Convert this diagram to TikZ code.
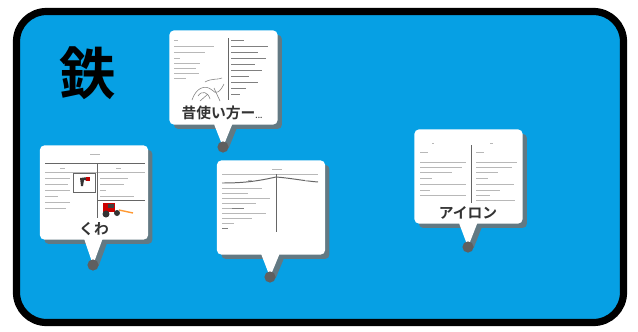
\documentclass[tikz,border=0pt]{standalone}
\usepackage{fontspec}
\newfontfamily\jp{Noto Sans CJK JP}[BoldFont={Noto Sans CJK JP Bold}]
\usetikzlibrary{shapes.callouts,shadows}
\definecolor{sky}{RGB}{6,160,228}
\definecolor{pingray}{RGB}{95,95,95}

\begin{document}
\begin{tikzpicture}[x=0.025cm, y=-0.025cm]
    \tikzstyle{card} = [rectangle callout, fill=white, rounded corners=3pt, inner sep=0pt, minimum width=2.7cm, minimum height=2.35cm, callout pointer width=0.45cm, drop shadow={shadow xshift=0.11cm, shadow yshift=-0.11cm, fill=black!55, opacity=0.85}]
    \tikzstyle{pin} = [circle, fill=pingray, inner sep=0pt, minimum size=0.28cm]
    \tikzstyle{tag} = [font=\jp\bfseries\fontsize{10.5}{10.5}\selectfont, text=black!80, inner sep=1pt]
    \tikzstyle{txt} = [draw=black!28, line width=0.4pt]
    \tikzstyle{ink} = [draw=black!50, line width=0.4pt]
    \tikzstyle{rule} = [draw=black!60, line width=0.7pt]

    \useasboundingbox (0,0) rectangle (638,331);
    % board
    \draw[line width=0.18cm, rounded corners=0.75cm, fill=sky] (16.5,11.5) rectangle (623.5,322.5);
    \node[font=\jp\bfseries\fontsize{40}{40}\selectfont] (title) at (88,73) {鉄};

    % tips of the callouts
    \coordinate (t1) at (223,147);
    \coordinate (t2) at (93,265);
    \coordinate (t3) at (270,277);
    \coordinate (t4) at (468,247);

    \node[card, callout absolute pointer={(t1)}] (c1) at (223.5,77.5) {};
    \node[card, callout absolute pointer={(t2)}] (c2) at (94,192.5) {};
    \node[card, callout absolute pointer={(t3)}] (c3) at (271,207.5) {};
    \node[card, callout absolute pointer={(t4)}] (c4) at (468.5,176.5) {};

    % page 1: notes with a sketch
    \draw[txt] (174,40) -- (178,40) (174,46) -- (214,46) (174,52) -- (205,52) (174,58) -- (180,58)
      (174,63) -- (200,63) (174,68) -- (196,68) (174,73) -- (199,73) (174,78) -- (186,78);
    \draw[rule] (228,38) -- (228,100);
    \draw[ink] (231,40) -- (244,40) (231,46) -- (268,46) (231,52) -- (258,52) (231,58) -- (266,58)
      (231,64) -- (255,64) (231,70) -- (262,70) (231,76) -- (249,76) (231,82) -- (258,82)
      (231,88) -- (246,88) (231,94) -- (240,94);
    \draw[ink] (192,100) .. controls (196,88) and (205,84) .. (212,90) .. controls (216,95) and (220,92) .. (224,84);
    \draw[ink] (198,96) .. controls (202,90) and (208,92) .. (210,99);
    \draw[ink] (205,82) .. controls (212,78) and (218,80) .. (222,78) (214,88) -- (220,101) (200,101) -- (208,94);

    % page 2: table with a hoe and a tractor
    \draw[txt] (90,154) -- (100,154) (60,168) -- (65,168) (116,168) -- (121,168);
    \draw[rule] (45,163) -- (145,163);
    \draw[txt] (45,172) -- (145,172);
    \draw[rule] (97,163) -- (97,218) (97,200) -- (145,200);
    \draw[rule] (73,173) rectangle (95,192);
    \fill[black!80] (80,178) -- (88,177) -- (89,181) -- (84,180) -- (83,186) -- (81,186) -- cycle;
    \fill[red!75!black] (86,177) rectangle (90,181);
    \draw[txt] (45,178) -- (70,178) (45,184) -- (68,184) (45,190) -- (70,190) (45,196) -- (58,196)
      (45,202) -- (70,202) (45,208) -- (66,208);
    \draw[txt] (100,178) -- (128,178) (100,184) -- (124,184) (100,190) -- (106,190) (100,196) -- (134,196);
    \fill[red!80!black] (103,203) rectangle (115,212);
    \fill[black!75] (108,204) rectangle (114,208);
    \fill[black!80] (106,214) circle[radius=3.5] (117,213) circle[radius=3];
    \draw[orange!80, line width=1pt] (119,210) -- (133,213);

    % page 3: profile over a two column table
    \draw[txt] (272,169) -- (282,169) (222,174) -- (318,174);
    \draw[rule] (222,183) .. controls (245,183) and (258,181) .. (276,177) .. controls (290,178) and (305,181) .. (318,182);
    \draw[rule] (276,174) -- (276,232);
    \draw[txt] (248,180) -- (252,180) (305,180) -- (309,180);
    \draw[txt] (222,188) -- (262,188) (222,193) -- (248,193) (222,198) -- (270,198) (222,203) -- (256,203)
      (222,208) -- (244,208) (222,213) -- (266,213) (222,218) -- (252,218) (222,223) -- (234,223);
    \draw[ink] (222,228) -- (228,228) (232,208) -- (244,208);

    % page 4: two column notes
    \draw[txt] (432,143) -- (434,143) (490,143) -- (493,143);
    \draw[rule] (471,145) -- (471,203);
    \draw[txt] (420,152) -- (428,152) (420,162) -- (466,162) (420,167) -- (462,167) (420,172) -- (452,172)
      (420,178) -- (432,178) (420,184) -- (466,184) (420,190) -- (430,190) (420,195) -- (466,195);
    \draw[txt] (476,152) -- (484,152) (476,162) -- (517,162) (476,167) -- (512,167) (476,172) -- (498,172)
      (476,178) -- (488,178) (476,184) -- (514,184) (476,190) -- (500,190) (476,195) -- (490,195) (476,200) -- (515,200);

    % labels
    \node[tag] (l1) at (222,113) {昔使い方ー{\fontsize{5}{5}\selectfont...}};
    \node[tag] (l2) at (94,229) {くわ};
    \node[tag] (l4) at (468,213) {アイロン};

    % pins
    \node[pin] (p1) at (t1) {};
    \node[pin] (p2) at (t2) {};
    \node[pin] (p3) at (t3) {};
    \node[pin] (p4) at (t4) {};
\end{tikzpicture}
\end{document}
